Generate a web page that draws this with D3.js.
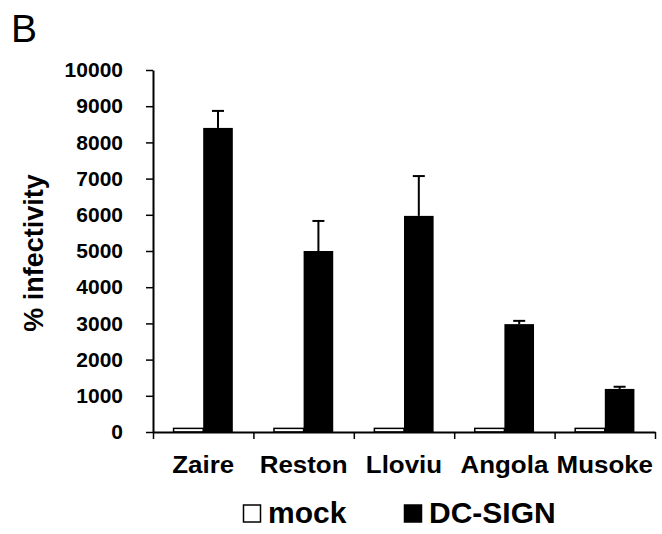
<!DOCTYPE html>
<html>
<head>
<meta charset="utf-8">
<script src="https://cdn.jsdelivr.net/npm/d3@7"></script>
<style>
  body { margin: 0; background: white; }
  text { font-family: "Liberation Sans", Arial, sans-serif; font-weight: bold; }
</style>
</head>
<body>
<svg id="chart" width="662" height="534"></svg>
<script>
const width = 662;
const height = 534;

// data
const strains = ["Zaire", "Reston", "Lloviu", "Angola", "Musoke"];
const series = ["mock", "DC-SIGN"];
const mockValues = [100, 100, 100, 100, 100];
const dcsignValues = [8400, 5000, 5970, 2980, 1190];
const dcsignErrors = [470, 830, 1100, 90, 60];
const yTicks = [0, 1000, 2000, 3000, 4000, 5000, 6000, 7000, 8000, 9000, 10000];

const svg = d3.select("#chart");

const x0 = d3.scaleBand()
    .domain(strains)
    .range([153, 655])
    .paddingInner(0.41)
    .paddingOuter(0.205);

const x1 = d3.scaleBand()
    .domain(series)
    .range([0, x0.bandwidth()]);

const y = d3.scaleLinear()
    .domain([0, 10000])
    .range([432, 70]);

// bars
const rows = strains.map((s, i) => ({
    strain: s,
    vals: [
        { key: "mock", value: mockValues[i] },
        { key: "DC-SIGN", value: dcsignValues[i], err: dcsignErrors[i] }
    ]
}));

const groups = svg.selectAll(".grp")
    .data(rows)
    .enter()
    .append("g")
    .attr("transform", d => `translate(${x0(d.strain)},0)`);

groups.selectAll("rect")
    .data(d => d.vals)
    .enter()
    .append("rect")
    .attr("x", d => x1(d.key))
    .attr("y", d => y(d.value))
    .attr("width", x1.bandwidth())
    .attr("height", d => y(0) - y(d.value))
    .attr("fill", d => d.key === "mock" ? "white" : "black")
    .attr("stroke", "black")
    .attr("stroke-width", d => d.key === "mock" ? 1.5 : 0);

// error bars (upper only)
groups.each(function (d) {
    const v = d.vals[1];
    const cx = x1(v.key) + x1.bandwidth() / 2;
    const g = d3.select(this);
    g.append("line")
        .attr("x1", cx).attr("x2", cx)
        .attr("y1", y(v.value)).attr("y2", y(v.value + v.err))
        .attr("stroke", "black").attr("stroke-width", 2);
    g.append("line")
        .attr("x1", cx - 6).attr("x2", cx + 6)
        .attr("y1", y(v.value + v.err)).attr("y2", y(v.value + v.err))
        .attr("stroke", "black").attr("stroke-width", 2);
});

// y axis
const yAxis = svg.append("g")
    .attr("transform", "translate(153,0)")
    .call(d3.axisLeft(y).tickValues(yTicks).tickFormat(d3.format("d"))
        .tickSize(7).tickSizeOuter(0).tickPadding(23));
yAxis.select(".domain").attr("stroke-width", 2);
yAxis.selectAll(".tick line").attr("stroke-width", 1.5);
yAxis.selectAll(".tick text")
    .attr("font-size", 21)
    .attr("fill", "black")
    .attr("font-family", "Liberation Sans, Arial, sans-serif")
    .attr("font-weight", "bold");

// x axis: tick marks at category boundaries
const xb = d3.scaleLinear().domain([0, strains.length]).range([153, 655]);
const xAxis = svg.append("g")
    .attr("transform", "translate(0,432)")
    .call(d3.axisBottom(xb).ticks(strains.length).tickSize(7).tickSizeOuter(0).tickFormat(""));
xAxis.select(".domain").attr("stroke-width", 2);
xAxis.selectAll(".tick line").attr("stroke-width", 1.5);

// category labels
svg.selectAll(".cat")
    .data(strains)
    .enter()
    .append("text")
    .attr("class", "cat")
    .attr("transform", d => `translate(${x0(d) + x0.bandwidth() / 2},473) scale(1.08,1)`)
    .attr("text-anchor", "middle")
    .attr("font-size", 24)
    .text(d => d);

// y label
svg.append("text")
    .attr("transform", "translate(43,253) rotate(-90)")
    .attr("text-anchor", "middle")
    .attr("font-size", 27)
    .text("% infectivity");

// panel letter
svg.append("text")
    .attr("x", 11)
    .attr("y", 42)
    .attr("font-size", 39)
    .style("font-weight", "normal")
    .text("B");

// legend
const legendX = [243, 404];
const legend = svg.selectAll(".leg")
    .data(series)
    .enter()
    .append("g")
    .attr("transform", (d, i) => `translate(${legendX[i]},0)`);
legend.append("rect")
    .attr("x", 0.5)
    .attr("y", 505)
    .attr("width", 17)
    .attr("height", 17)
    .attr("fill", d => d === "mock" ? "white" : "black")
    .attr("stroke", "black")
    .attr("stroke-width", 1.5);
legend.append("text")
    .attr("x", 25)
    .attr("y", 523)
    .attr("font-size", 30)
    .text(d => d);
</script>
</body>
</html>
